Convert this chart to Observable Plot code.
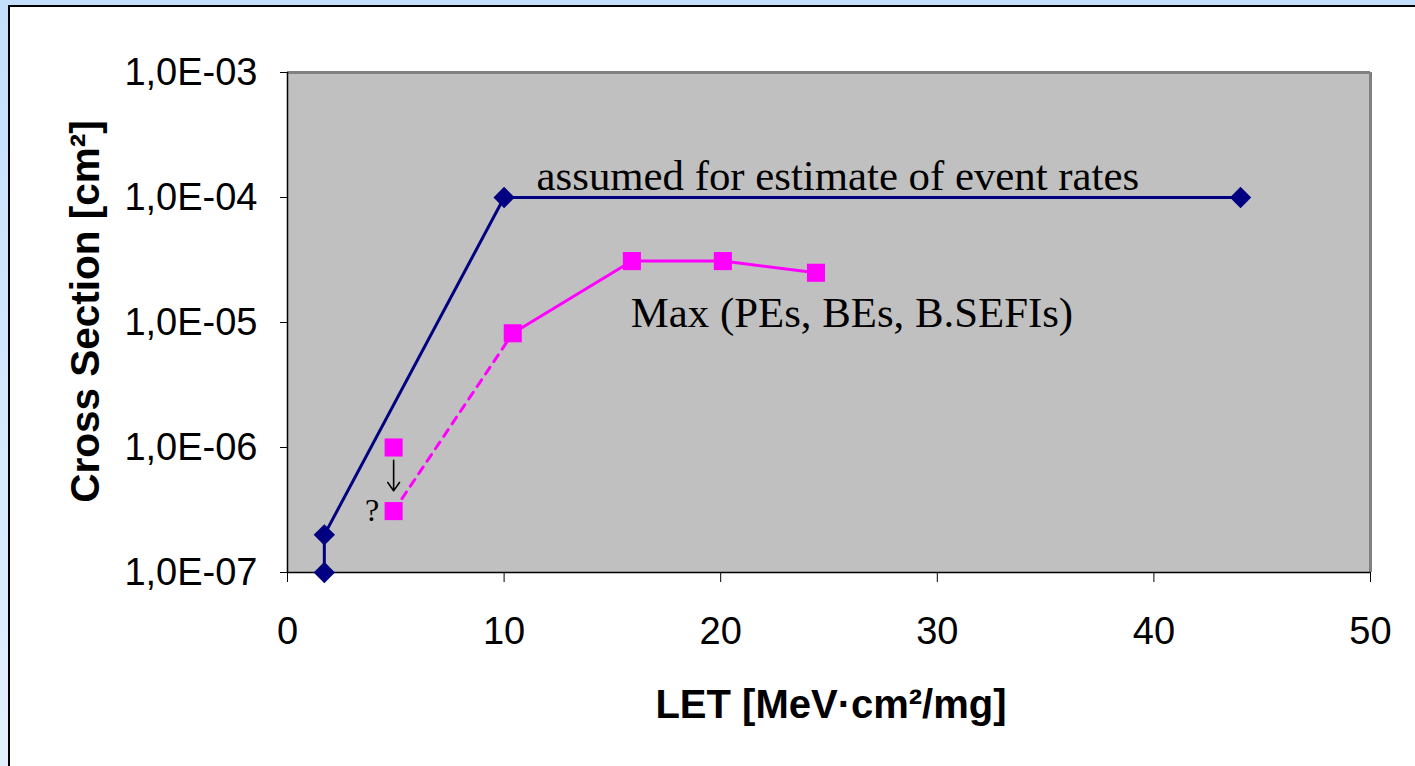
<!DOCTYPE html>
<html><head><meta charset="utf-8">
<script src="https://cdn.jsdelivr.net/npm/d3@7"></script>
<script src="https://cdn.jsdelivr.net/npm/@observablehq/plot@0.6"></script>
<style>
html,body{margin:0;padding:0;width:1415px;height:766px;overflow:hidden;background:linear-gradient(#c3dffb,#e2efff);}
#frame{position:absolute;left:8px;top:5px;width:1407px;height:761px;background:#fff;border-left:2px solid #000;border-top:2px solid #000;}
</style></head><body><div id="frame"></div>
<script>
// Series: "assumed for estimate of event rates" (navy)
const assumedLET = [1.7, 1.7, 10, 44];
const assumedXS  = [1e-7, 2e-7, 1e-4, 1e-4];
// Series: Max (PEs, BEs, B.SEFIs) (magenta), measured part
const maxLET = [10.4, 15.9, 20.1, 24.4];
const maxXS  = [8.2e-6, 3.1e-5, 3.1e-5, 2.5e-5];
// Uncertain low-LET point: upper value, lower value (dashed link)
const uncertainLET = [4.9, 4.9];
const uncertainXS  = [1e-6, 3.1e-7];
const dashedLET = [4.9, 10.4];
const dashedXS  = [3.1e-7, 8.2e-6];
// Ticks
const xTicks = [0, 10, 20, 30, 40, 50];
const yTicks = [1e-7, 1e-6, 1e-5, 1e-4, 1e-3];
// Texts
const xLabel = "LET [MeV·cm²/mg]";
const yLabel = "Cross Section [cm²]";
const seriesLabels = [
  {x: 11.5, y: 1.48e-4, text: "assumed for estimate of event rates"},
  {x: 15.85, y: 1.19e-5, text: "Max (PEs, BEs, B.SEFIs)"}
];
const questionMark = [{x: 3.9, y: 3.13e-7, text: "?"}];
const downArrow = [{x: 4.9, y1: 7.9e-7, y2: 4.5e-7}];

const assumed = assumedLET.map((x, i) => ({x, y: assumedXS[i]}));
const maxPts = maxLET.map((x, i) => ({x, y: maxXS[i]}));
const uncertain = uncertainLET.map((x, i) => ({x, y: uncertainXS[i]}));
const dashed = dashedLET.map((x, i) => ({x, y: dashedXS[i]}));

const fmtY = d => "1,0E-" + String(-Math.round(Math.log10(d))).padStart(2, "0");

const chart = Plot.plot({
  width: 1405,
  height: 759,
  marginLeft: 277,
  marginRight: 45,
  marginTop: 65,
  marginBottom: 194,
  style: {fontFamily: "'Liberation Sans', Arial, sans-serif", fontSize: "38px", background: "transparent", color: "#000"},
  x: {domain: [0, 50], ticks: xTicks, tickSize: 10, tickPadding: 35, label: null},
  y: {type: "log", domain: [1e-7, 1e-3], ticks: yTicks, tickFormat: fmtY, tickSize: 7, tickPadding: 23, label: null},
  marks: [
    Plot.frame({fill: "#c0c0c0"}),
    Plot.ruleY([1e-3], {stroke: "#808080", strokeWidth: 3}),
    Plot.ruleX([50], {stroke: "#808080", strokeWidth: 3}),
    Plot.ruleX([0], {stroke: "#000", strokeWidth: 1.5}),
    Plot.ruleY([1e-7], {stroke: "#000", strokeWidth: 1.5}),
    Plot.line(assumed, {x: "x", y: "y", stroke: "#000080", strokeWidth: 3}),
    Plot.line(dashed, {x: "x", y: "y", stroke: "#ff00ff", strokeWidth: 3, strokeDasharray: "8,7"}),
    Plot.line(maxPts, {x: "x", y: "y", stroke: "#ff00ff", strokeWidth: 3}),
    Plot.dot(assumed, {x: "x", y: "y", symbol: "diamond2", r: 9.6, fill: "#000080", stroke: null}),
    Plot.dot(maxPts, {x: "x", y: "y", symbol: "square", r: 10.2, fill: "#ff00ff", stroke: null}),
    Plot.dot(uncertain, {x: "x", y: "y", symbol: "square", r: 10.2, fill: "#ff00ff", stroke: null}),
    Plot.arrow(downArrow, {x: "x", y1: "y1", y2: "y2", stroke: "#000", strokeWidth: 1.6, headLength: 13, headAngle: 70}),
    Plot.text(seriesLabels, {x: "x", y: "y", text: "text", textAnchor: "start", lineAnchor: "middle", fontFamily: "'Liberation Serif', 'Times New Roman', serif", fontSize: 42.8, fill: "#000"}),
    Plot.text(questionMark, {x: "x", y: "y", text: "text", textAnchor: "middle", lineAnchor: "middle", fontFamily: "'Liberation Serif', 'Times New Roman', serif", fontSize: 32, fill: "#000"}),
    Plot.text([xLabel], {frameAnchor: "bottom", textAnchor: "middle", lineAnchor: "middle", dx: 2, dy: 133, fontWeight: "bold", fontSize: 40, fill: "#000"}),
    Plot.text([yLabel], {frameAnchor: "left", textAnchor: "middle", lineAnchor: "middle", rotate: -90, dx: -201, dy: -11, fontWeight: "bold", fontSize: 40.5, fill: "#000"}),
    Plot.axisX({ticks: xTicks, tickSize: 10, tickPadding: 35, label: null, fontSize: 38}),
    Plot.axisY({ticks: yTicks, tickFormat: fmtY, tickSize: 7, tickPadding: 23, label: null, fontSize: 38})
  ]
});
document.getElementById("frame").appendChild(chart);
</script>
</body></html>
